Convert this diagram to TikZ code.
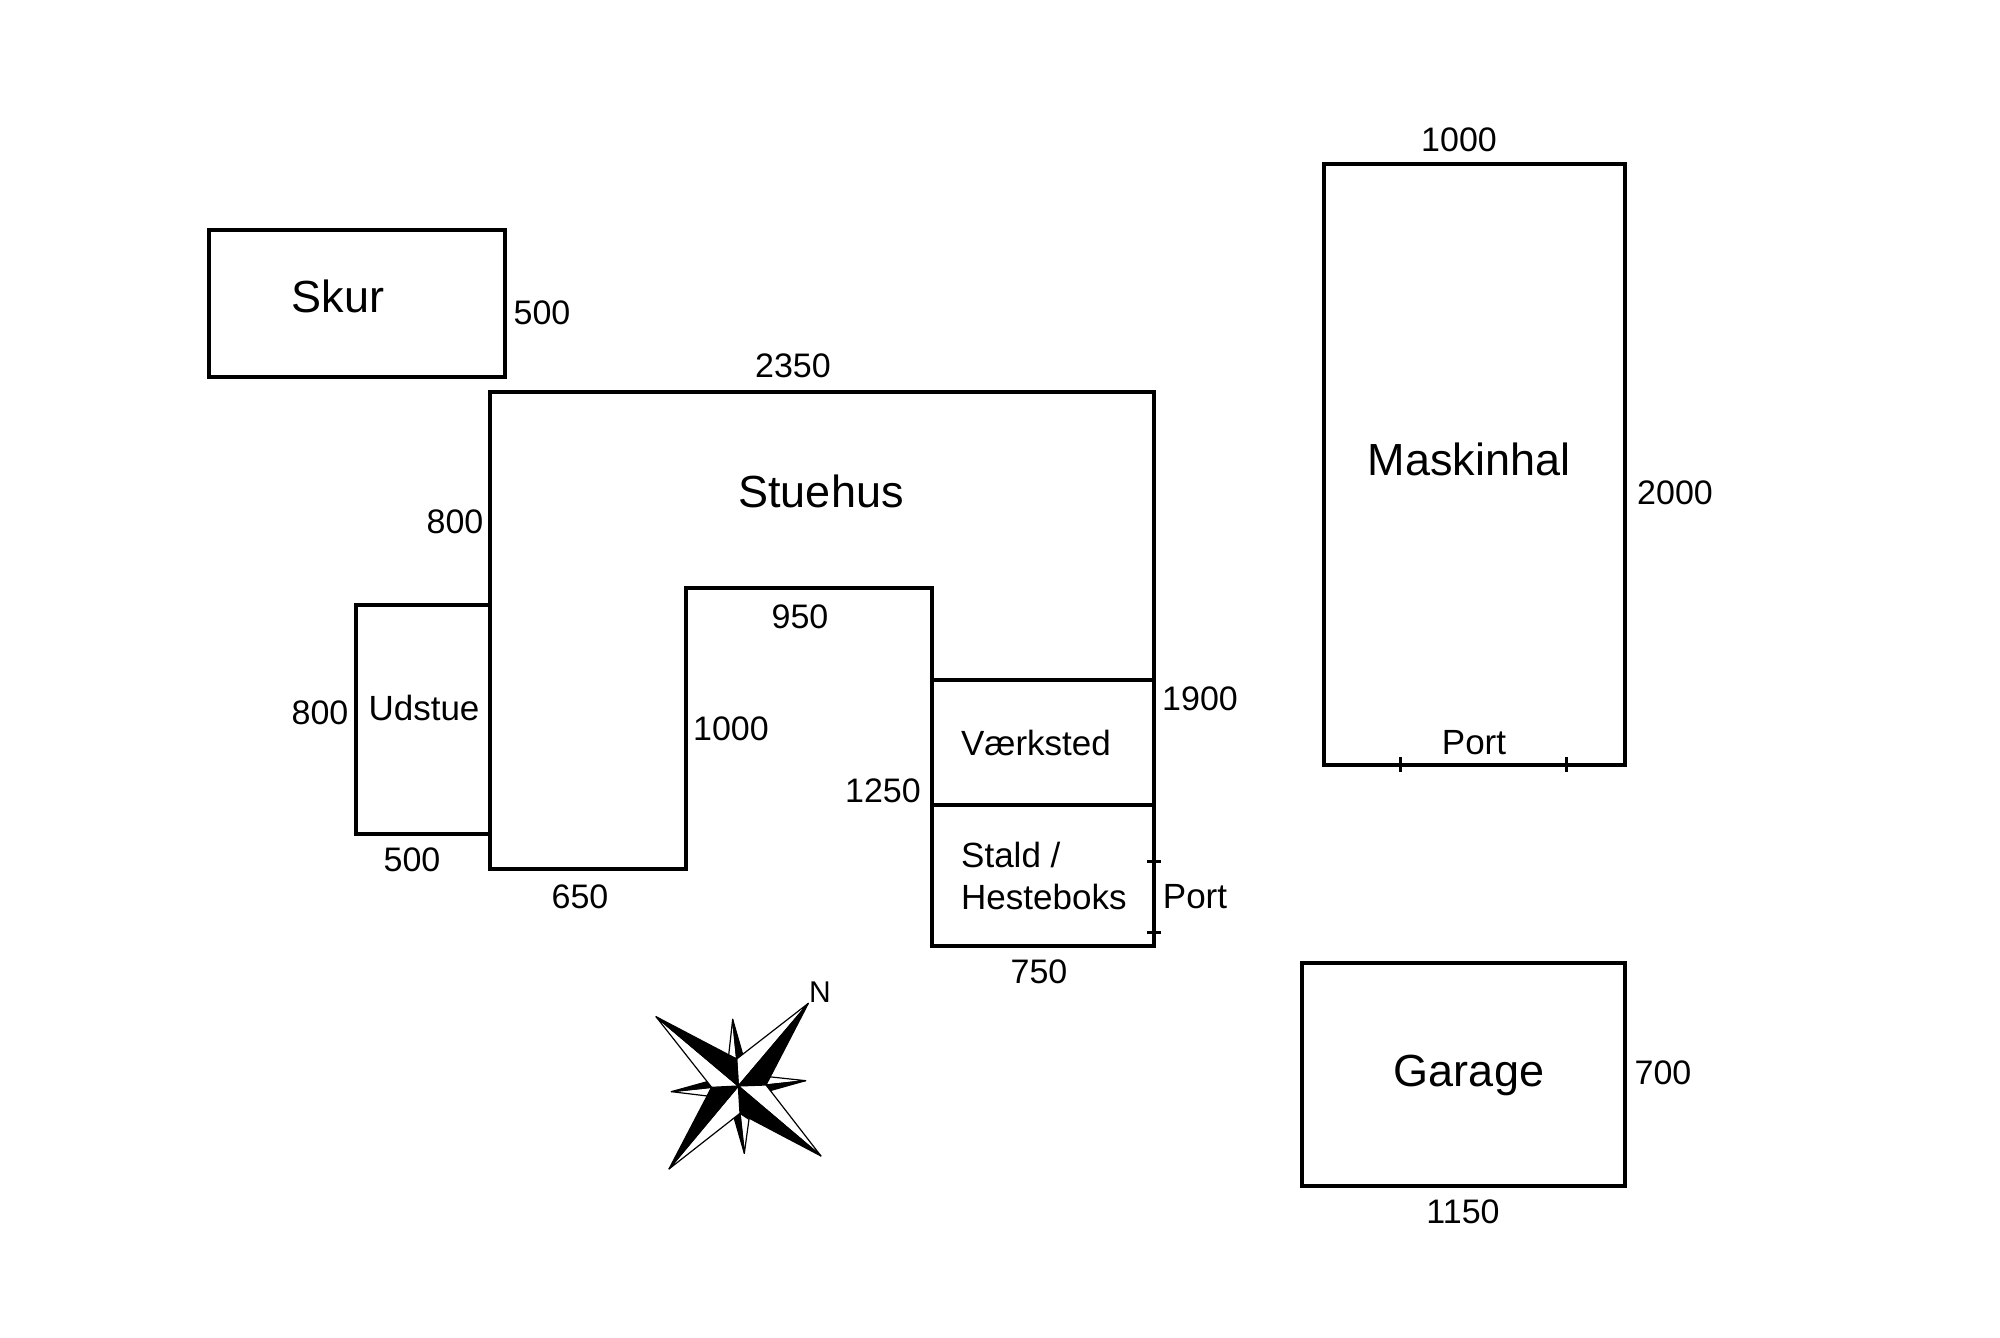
\documentclass[tikz,border=0pt]{standalone}
\usepackage{fontspec}
\setmainfont{Liberation Sans}
\tikzset{
  wall/.style={draw=black,line width=3.8pt,line join=miter,fill=none},
  inner wall/.style={draw=black,line width=3.2pt},
  porttick/.style={draw=black,line width=3pt},
  num/.style={inner sep=0pt,font=\fontsize{34}{40}\selectfont,text=black},
  roomlab/.style={inner sep=0pt,font=\fontsize{35}{41}\selectfont,text=black},
  bldg/.style={inner sep=0pt,font=\fontsize{45}{52}\selectfont,text=black},
  ink/.style={fill=black,draw=black,line width=1.2pt,line join=round},
  paper/.style={fill=white,draw=black,line width=1.2pt,line join=round}
}
\begin{document}
\begin{tikzpicture}[x=1pt,y=-1pt]
\useasboundingbox[fill=white] (0,0) rectangle (2000,1338);
% buildings
\draw[wall] (209,230) rectangle (505,377);
\draw[wall] (356,605) rectangle (490,834);
\draw[wall] (490,392) -- (1154,392) -- (1154,946) -- (932,946) -- (932,588) -- (686,588) -- (686,869) -- (490,869) -- cycle;
\draw[inner wall] (932,680) -- (1154,680);
\draw[inner wall] (932,805) -- (1154,805);
\draw[wall] (1324,164) rectangle (1625,765);
\draw[wall] (1302,963) rectangle (1625,1186);
% port ticks
\draw[porttick] (1147,861) -- (1161,861);
\draw[porttick] (1147,932) -- (1161,932);
\draw[porttick] (1400,757) -- (1400,772);
\draw[porttick] (1566,757) -- (1566,772);
% building names
\node[bldg] (skur) at (338,296) {Skur};
\node[bldg] (stuehus) at (821,491) {Stuehus};
\node[bldg] (maskinhal) at (1469,459) {Maskinhal};
\node[bldg] (garage) at (1469,1075) {Garage};
\node[roomlab] (udstue) at (424,708) {Udstue};
\node[roomlab] (vaerksted) at (1036,743) {Værksted};
\node[roomlab,anchor=west] (stald) at (961,855) {Stald /};
\node[roomlab,anchor=west] (hesteboks) at (961,897) {Hesteboks};
\node[roomlab] (port a) at (1474,743) {Port};
\node[roomlab] (port b) at (1195,897) {Port};
% dimensions
\node[num] (d1) at (1459,140) {1000};
\node[num] (d2) at (542,313) {500};
\node[num] (d3) at (793,366) {2350};
\node[num] (d4) at (1675,493) {2000};
\node[num] (d5) at (455,522) {800};
\node[num] (d6) at (800,617) {950};
\node[num] (d7) at (320,713) {800};
\node[num] (d8) at (731,729) {1000};
\node[num] (d9) at (1200,699) {1900};
\node[num] (d10) at (883,791) {1250};
\node[num] (d11) at (412,860) {500};
\node[num] (d12) at (580,897) {650};
\node[num] (d13) at (1039,972) {750};
\node[num] (d14) at (1663,1073) {700};
\node[num] (d15) at (1463,1212) {1150};
% compass rose
\begin{scope}[shift={(630,960)},x=0.3333pt,y=-0.3333pt]
  \coordinate (c) at (325,378);
  \coordinate (a) at (320,297);
  \coordinate (b) at (408,375);
  \coordinate (d) at (330,460);
  \coordinate (e) at (245,382);
  % small spikes
  \draw[paper] (308,178) -- (296,286) -- (a) -- cycle;
  \draw[ink] (308,178) -- (338,283) -- (a) -- cycle;
  \draw[paper] (527,362) -- (415,350) -- (b) -- cycle;
  \draw[ink] (527,362) -- (b) -- (420,392) -- cycle;
  \draw[paper] (343,580) -- (357,478) -- (d) -- cycle;
  \draw[ink] (343,580) -- (d) -- (312,472) -- cycle;
  \draw[paper] (124,395) -- (232,408) -- (e) -- cycle;
  \draw[ink] (124,395) -- (e) -- (232,365) -- cycle;
  % large points
  \draw[paper] (535,130) -- (a) -- (c) -- cycle;
  \draw[ink] (535,130) -- (c) -- (b) -- cycle;
  \draw[paper] (573,588) -- (b) -- (c) -- cycle;
  \draw[ink] (573,588) -- (c) -- (d) -- cycle;
  \draw[paper] (117,627) -- (d) -- (c) -- cycle;
  \draw[ink] (117,627) -- (c) -- (e) -- cycle;
  \draw[paper] (78,170) -- (e) -- (c) -- cycle;
  \draw[ink] (78,170) -- (c) -- (a) -- cycle;
\end{scope}
\node[inner sep=0pt,font=\fontsize{30}{35}\selectfont,text=black] (north) at (820,992) {N};
\end{tikzpicture}
\end{document}
